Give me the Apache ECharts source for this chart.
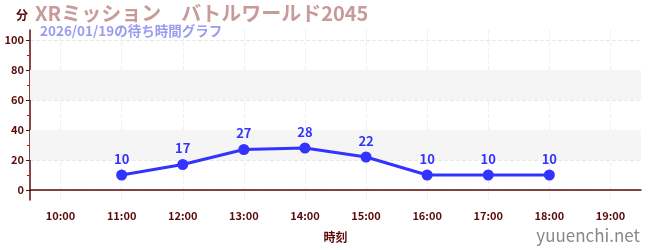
<!DOCTYPE html>
<html>
<head>
<meta charset="utf-8">
<script src="https://cdn.jsdelivr.net/npm/echarts@6/dist/echarts.min.js"></script>
<style>html,body{margin:0;padding:0;background:#fff}#c{width:650px;height:250px}</style>
</head>
<body>
<div id="c"></div>
<script>
const titleText = 'XRミッション　バトルワールド2045';
const subText = '2026/01/19の待ち時間グラフ';
const categories = ['10:00','11:00','12:00','13:00','14:00','15:00','16:00','17:00','18:00','19:00'];
const waitTimes = [null, 10, 17, 27, 28, 22, 10, 10, 10, null];
const yTicks = [0, 20, 40, 60, 80, 100];
const yMinorTicks = [10, 30, 50, 70, 90];
const yMin = -6.67, yMax = 106.67;
const shadedBands = [[20, 40], [60, 80]];

const axisColor = '#5a0a0a';
const font = '"Noto Sans CJK JP", "Noto Sans", sans-serif';
const chart = echarts.init(document.getElementById('c'), null, {renderer: 'canvas'});
chart.setOption({
  animation: false,
  textStyle: {fontFamily: font},
  title: [{
    text: titleText, left: 30, top: -2,
    textStyle: {fontSize: 20, fontWeight: 'bold', color: '#c89b9b', fontFamily: font}
  }, {
    text: subText, left: 35, top: 19,
    textStyle: {fontSize: 13.5, fontWeight: 'bold', color: '#9b9bf0', fontFamily: font}
  }],
  graphic: [{
    type: 'text', right: 10, bottom: 6,
    style: {text: 'yuuenchi.net', fontSize: 17, fill: '#888', fontFamily: font}
  }],
  grid: {left: 30, right: 9, top: 30, bottom: 50, containLabel: false},
  xAxis: {
    type: 'category', data: categories, boundaryGap: true,
    name: '時刻', nameLocation: 'middle', nameGap: 31,
    nameTextStyle: {color: axisColor, fontSize: 12, fontWeight: 'bold'},
    axisLine: {lineStyle: {color: axisColor, width: 1.5}},
    axisTick: {alignWithLabel: true, length: 3, lineStyle: {color: '#777', width: 2}},
    axisLabel: {color: axisColor, fontSize: 11, margin: 10, fontWeight: 'bold', interval: 0},
    splitLine: {show: true, alignWithLabel: true, interval: 0, lineStyle: {color: '#eee', type: 'dashed'}}
  },
  yAxis: [{
    type: 'value', min: yMin, max: yMax,
    name: '分', nameLocation: 'end', nameGap: 9,
    nameTextStyle: {color: axisColor, fontSize: 12, fontWeight: 'bold', align: 'right', padding: [0, 2, 0, 0]},
    axisLine: {show: true, lineStyle: {color: axisColor, width: 1.5}},
    axisTick: {show: true, length: 4, customValues: yTicks, lineStyle: {color: '#222'}},
    axisLabel: {color: axisColor, fontSize: 11, margin: 6, fontWeight: 'bold', customValues: yTicks},
    splitLine: {show: true, lineStyle: {color: '#e8e8e8', type: 'dashed'}},
    splitArea: {show: false}
  }, {
    type: 'value', min: yMin, max: yMax, position: 'left',
    axisLine: {show: false},
    axisTick: {show: true, length: 3, customValues: yMinorTicks, lineStyle: {color: '#e00'}},
    axisLabel: {show: false, customValues: yMinorTicks},
    splitLine: {show: false}
  }],
  series: [{
    type: 'line', data: waitTimes, yAxisIndex: 0,
    symbol: 'circle', symbolSize: 11,
    lineStyle: {color: '#3333ff', width: 3},
    itemStyle: {color: '#3333ff'},
    label: {show: true, position: 'top', distance: 4, color: '#3333ff', fontSize: 13, fontWeight: 'bold'},
    markArea: {
      silent: true,
      itemStyle: {color: '#f5f5f5'},
      data: shadedBands.map(b => [{yAxis: b[0]}, {yAxis: b[1]}])
    }
  }]
});
</script>
</body>
</html>
